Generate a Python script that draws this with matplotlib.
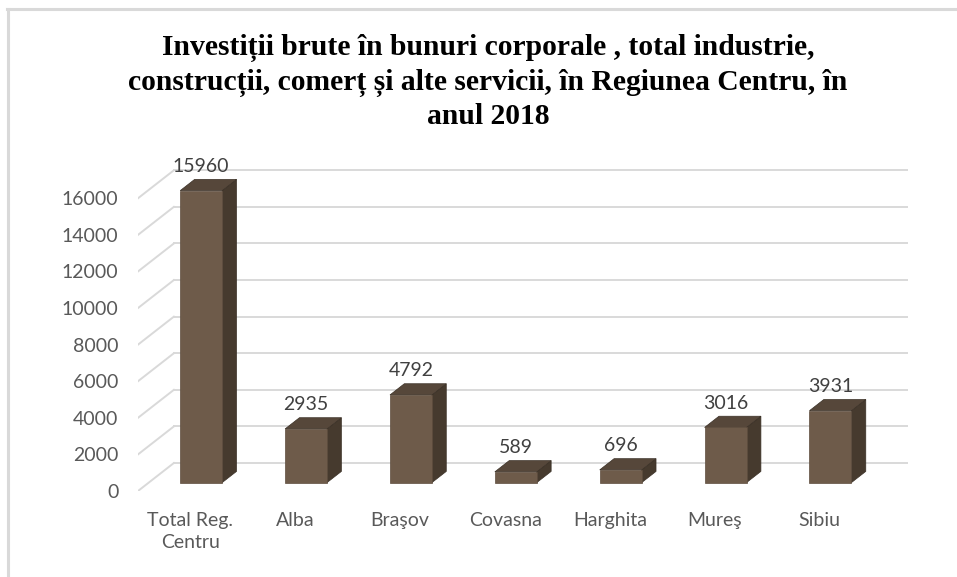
import matplotlib
matplotlib.use("Agg")
import matplotlib.pyplot as plt
from matplotlib.patches import Polygon
from matplotlib.lines import Line2D

# ── data ──────────────────────────────────────────────────────────────────────
categories = ["Total Reg.\nCentru", "Alba", "Braşov", "Covasna",
              "Harghita", "Mureş", "Sibiu"]
values = [15960, 2935, 4792, 589, 696, 3016, 3931]
y_ticks = [0, 2000, 4000, 6000, 8000, 10000, 12000, 14000, 16000]
title = ("Investiții brute în bunuri corporale , total industrie,\n"
         "construcții, comerț și alte servicii, în Regiunea Centru, în\n"
         "anul 2018")

# ── style ─────────────────────────────────────────────────────────────────────
FRONT = "#6e5b4a"
SIDE = "#463a2e"
TOP = "#56473a"
GRID = "#d9d9d9"
TXT = "#595959"

DX, DY = 0.342, 1530      # depth of the 3D floor in data units
BW = 0.40                 # bar width
D0, D1 = 0.30, 0.70       # bar placed between these depth fractions

fig = plt.figure(figsize=(9.57, 5.77), dpi=100)
ax = fig.add_axes([138 / 957, 86 / 577, 770 / 957, 322 / 577])
n = len(categories)
ax.set_xlim(0, n + DX)
ax.set_ylim(0, 17600)
for s in ax.spines.values():
    s.set_visible(False)

# walls: diagonal stubs + back gridlines
for v in y_ticks:
    ax.plot([0, DX], [v, v + DY], color=GRID, lw=1.4, zorder=1)
    ax.plot([DX, n + DX], [v + DY, v + DY], color=GRID, lw=1.4, zorder=1)

# bars
for i, v in enumerate(values):
    x0 = i + 0.5 - BW / 2 + D0 * DX
    x1 = x0 + BW
    y0 = D0 * DY
    ddx = (D1 - D0) * DX
    ddy = (D1 - D0) * DY
    front = [(x0, y0), (x1, y0), (x1, y0 + v), (x0, y0 + v)]
    side = [(x1, y0), (x1 + ddx, y0 + ddy), (x1 + ddx, y0 + v + ddy), (x1, y0 + v)]
    top = [(x0, y0 + v), (x1, y0 + v), (x1 + ddx, y0 + v + ddy), (x0 + ddx, y0 + v + ddy)]
    ax.add_patch(Polygon(side, closed=True, fc=SIDE, ec="#3a3026", lw=0.5, zorder=3))
    ax.add_patch(Polygon(top, closed=True, fc=TOP, ec="#3a3026", lw=0.5, zorder=3))
    ax.add_patch(Polygon(front, closed=True, fc=FRONT, ec="#5e4d3e", lw=0.5, zorder=4))
    ax.annotate(f"{v}", xy=(i + 0.5 + D0 * DX, v + D1 * DY),
                xytext=(0, 9.5), textcoords="offset points",
                ha="center", va="center", fontsize=14, color="#404040",
                family="Lato", zorder=5)

ax.set_yticks(y_ticks)
ax.set_yticklabels([str(t) for t in y_ticks], family="Lato", fontsize=14, color=TXT)
ax.set_xticks([i + 0.5 for i in range(n)])
ax.set_xticklabels(categories, family="Lato", fontsize=14, color=TXT, linespacing=1.35)
ax.tick_params(axis="y", length=0, pad=14)
ax.tick_params(axis="x", length=0, pad=15)

fig.text(488 / 957, 1 - 82 / 577, title, ha="center", va="center",
         family="Liberation Serif", fontweight="bold", fontsize=21.3,
         linespacing=1.33, color="black")

# outer frame (top and left edge of the pasted chart)
fig.add_artist(Line2D([7 / 957, 1], [1 - 9 / 577, 1 - 9 / 577],
                      transform=fig.transFigure, color=GRID, lw=2.2))
fig.add_artist(Line2D([8 / 957, 8 / 957], [0, 1 - 9 / 577],
                      transform=fig.transFigure, color=GRID, lw=2.2))

fig.savefig("out.png", dpi=100)
